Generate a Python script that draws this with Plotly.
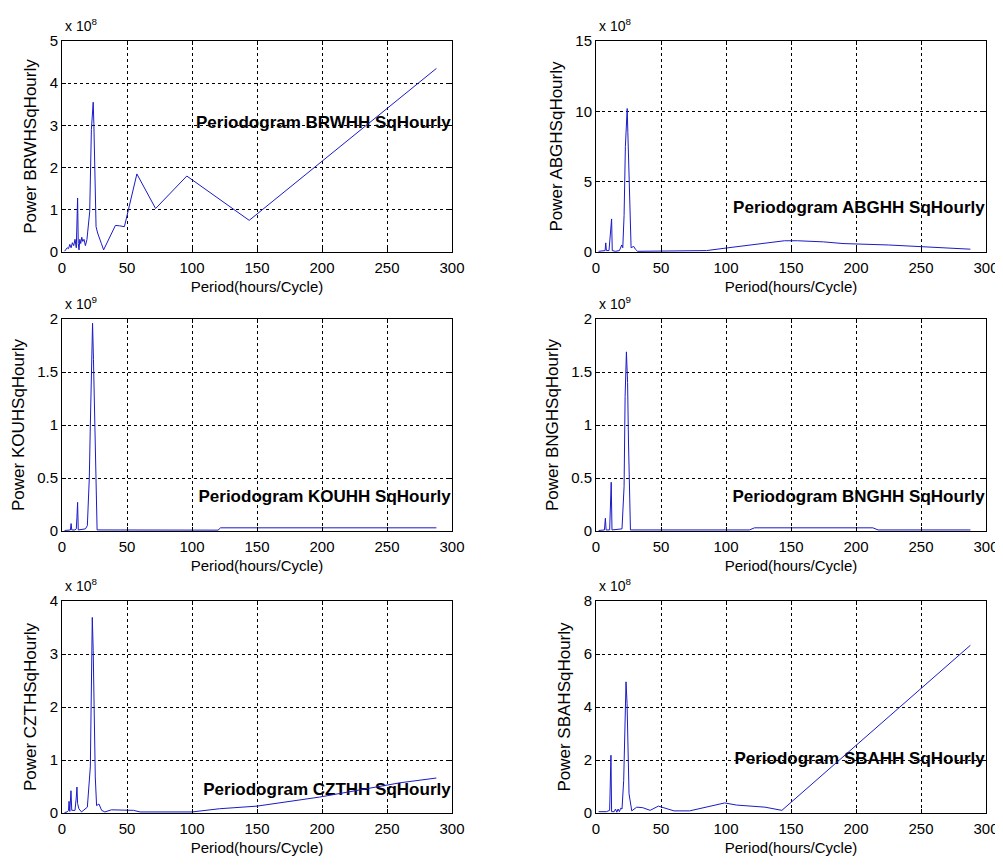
import plotly.graph_objects as go

# ---------------- data (period in hours/cycle, power in the axis multiplier units) ----------------
brwh_period = [2, 3, 4, 5, 6, 7, 8, 9, 10, 11, 11.5, 12, 12.5, 13.1, 13.7, 14.4, 15.2, 16, 16.9, 18,
               19.2, 20.6, 21.3, 22.6, 24, 24.5, 25.0, 26.2, 27.4, 28.8, 30.3, 32, 36, 41.1, 44.3, 48,
               57.6, 72, 96, 144, 288]
brwh_power = [0.02, 0.05, 0.1, 0.08, 0.18, 0.1, 0.22, 0.15, 0.3, 0.1, 0.65, 1.28, 0.2, 0.05, 0.3, 0.2,
              0.35, 0.25, 0.3, 0.15, 0.3, 0.85, 0.95, 2.9, 3.55, 3.05, 2.0, 0.6, 0.45, 0.35, 0.2, 0.05,
              0.3, 0.63, 0.62, 0.6, 1.85, 1.03, 1.8, 0.75, 4.35]          # x 10^8

abgh_period = [2, 5, 7, 7.5, 8, 10, 11, 12, 12.5, 15, 18, 19.8, 20.6, 21.6, 22.6, 24, 24.5, 25.5, 26.2,
               27, 29, 30.3, 32, 50, 85, 100, 125, 145, 155, 175, 190, 200, 225, 250, 270, 288]
abgh_power = [0.05, 0.05, 0.1, 0.65, 0.1, 0.1, 1.2, 2.35, 0.1, 0.05, 0.1, 0.5, 0.3, 2.6, 7.5, 10.2, 8.5,
              5.2, 1.8, 0.3, 0.4, 0.2, 0.05, 0.05, 0.1, 0.28, 0.55, 0.8, 0.8, 0.72, 0.6, 0.58, 0.5,
              0.38, 0.28, 0.2]                                             # x 10^8

kouh_period = [2, 5, 6.5, 7, 7.5, 10, 11, 11.5, 12, 12.5, 18, 19.5, 21, 21.8, 22.4, 23.5, 24.2, 25.3,
               26.2, 27, 120, 122, 288]
kouh_power = [0.005, 0.01, 0.01, 0.07, 0.01, 0.01, 0.02, 0.13, 0.27, 0.01, 0.02, 0.05, 0.5, 1.0, 1.47,
              1.96, 1.62, 0.97, 0.32, 0.01, 0.008, 0.03, 0.03]             # x 10^9

bngh_period = [2, 6.5, 7.2, 7.8, 10.5, 11, 11.7, 12.3, 20, 21.6, 22.4, 23.4, 24.3, 25, 25.8, 26.5,
               118, 122, 213, 217, 288]
bngh_power = [0.005, 0.01, 0.12, 0.01, 0.01, 0.23, 0.46, 0.01, 0.02, 0.42, 1.27, 1.69, 1.40, 0.83,
              0.27, 0.01, 0.01, 0.03, 0.03, 0.01, 0.01]                    # x 10^9

czth_period = [2, 4, 5, 5.4, 6, 6.9, 7.5, 10, 11, 11.5, 12, 13, 15, 19.5, 21.8, 22.5, 23.3, 24, 24.6,
               25.6, 26.6, 28.4, 30.5, 33, 38, 55, 60, 100, 121, 150, 198, 229, 260, 288]
czth_power = [0.01, 0.02, 0.05, 0.22, 0.03, 0.42, 0.05, 0.05, 0.3, 0.49, 0.18, 0.08, 0.02, 0.11, 0.87,
              2.82, 3.69, 3.07, 1.88, 0.68, 0.14, 0.17, 0.05, 0.02, 0.06, 0.05, 0.02, 0.02, 0.08,
              0.13, 0.3, 0.43, 0.57, 0.66]                                 # x 10^8

sbah_period = [2, 5, 8, 10.5, 10.9, 11.5, 12, 14, 15, 16, 17, 18, 19, 20, 21.3, 21.8, 23.1, 23.9, 24.6,
               25.4, 27.5, 31.3, 36, 41.6, 48, 52, 60, 72, 85, 99, 108, 130, 143, 288]
sbah_power = [0.05, 0.05, 0.05, 0.1, 1.1, 2.18, 0.05, 0.05, 0.15, 0.03, 0.15, 0.05, 0.18, 0.15, 1.23,
              2.75, 4.95, 4.13, 2.24, 0.73, 0.08, 0.22, 0.2, 0.1, 0.26, 0.2, 0.08, 0.08, 0.22, 0.38,
              0.3, 0.22, 0.1, 6.33]                                        # x 10^8

x_ticks = [0, 50, 100, 150, 200, 250, 300]
y_ticks_brwh = [0, 1, 2, 3, 4, 5]
y_ticks_abgh = [0, 5, 10, 15]
y_ticks_kouh = [0, 0.5, 1, 1.5, 2]
y_ticks_bngh = [0, 0.5, 1, 1.5, 2]
y_ticks_czth = [0, 1, 2, 3, 4]
y_ticks_sbah = [0, 2, 4, 6, 8]

panels = [
    dict(px=brwh_period, py=brwh_power, yt=y_ticks_brwh, ylab="Power BRWHSqHourly",
         title="Periodogram BRWHH SqHourly", ty=3.03, exp="8"),
    dict(px=abgh_period, py=abgh_power, yt=y_ticks_abgh, ylab="Power ABGHSqHourly",
         title="Periodogram ABGHH SqHourly", ty=3.06, exp="8"),
    dict(px=kouh_period, py=kouh_power, yt=y_ticks_kouh, ylab="Power KOUHSqHourly",
         title="Periodogram KOUHH SqHourly", ty=0.31, exp="9"),
    dict(px=bngh_period, py=bngh_power, yt=y_ticks_bngh, ylab="Power BNGHSqHourly",
         title="Periodogram BNGHH SqHourly", ty=0.31, exp="9"),
    dict(px=czth_period, py=czth_power, yt=y_ticks_czth, ylab="Power CZTHSqHourly",
         title="Periodogram CZTHH SqHourly", ty=0.42, exp="8"),
    dict(px=sbah_period, py=sbah_power, yt=y_ticks_sbah, ylab="Power SBAHSqHourly",
         title="Periodogram SBAHH SqHourly", ty=2.0, exp="8"),
]

# The page body has an 8px margin, so the figure is drawn 8px in from the window corner.
OFF = 8
W, H = 1003 - OFF, 868 - OFF
col_px = [(62, 452), (596, 986)]
row_px = [(41, 252), (319, 531), (601, 813)]
col_dom = [[(a - OFF) / W, (b - OFF) / W] for a, b in col_px]
row_dom = [[1 - (b - OFF) / H, 1 - (t - OFF) / H] for t, b in row_px]

FONT = "Liberation Sans, Arial, sans-serif"
LINE = "#1a1ac8"

fig = go.Figure()
layout = dict(
    template="none",
    width=W, height=H, paper_bgcolor="white", plot_bgcolor="white",
    margin=dict(l=0, r=0, t=0, b=0, pad=0), showlegend=False, annotations=[],
    font=dict(family=FONT, color="black"),
)

for i, p in enumerate(panels):
    n = i + 1
    r, c = divmod(i, 2)
    xa = "x" if n == 1 else f"x{n}"
    ya = "y" if n == 1 else f"y{n}"
    # in-plot caption drawn first, so the data line passes over it as in the original
    fig.add_trace(go.Scatter(x=[299], y=[p["ty"]], mode="text", xaxis=xa, yaxis=ya,
                             text=[f"<b>{p['title']}</b>"], textposition="middle left",
                             textfont=dict(family=FONT, size=17, color="black"),
                             hoverinfo="skip"))
    fig.add_trace(go.Scatter(x=p["px"], y=p["py"], mode="lines", xaxis=xa, yaxis=ya,
                             line=dict(color=LINE, width=1), hoverinfo="x+y"))
    axis_common = dict(
        automargin=False,
        showline=True, linecolor="black", linewidth=1, mirror="ticks",
        ticks="inside", ticklen=4, tickcolor="black", tickwidth=1,
        showgrid=True, gridcolor="black", gridwidth=1, griddash="3px,3px",
        zeroline=False, tickfont=dict(family=FONT, size=15, color="black"),
    )
    layout["xaxis" if n == 1 else f"xaxis{n}"] = dict(
        axis_common, domain=col_dom[c], anchor=ya, range=[0, 300], tickvals=x_ticks,
        ticklabelstandoff=2,
        title=dict(text="Period(hours/Cycle)", font=dict(family=FONT, size=15, color="black"),
                   standoff=6),
    )
    layout["yaxis" if n == 1 else f"yaxis{n}"] = dict(
        axis_common, domain=row_dom[r], anchor=xa, range=[p["yt"][0], p["yt"][-1]],
        tickvals=p["yt"],
        title=dict(text=p["ylab"], font=dict(family=FONT, size=17, color="black"), standoff=8),
    )
    layout["annotations"].append(dict(
        x=col_dom[c][0] + 1 / W, y=row_dom[r][1] + 16 / H, xref="paper", yref="paper",
        xanchor="left", yanchor="middle", text=f"x 10<sup>{p['exp']}</sup>", showarrow=False,
        font=dict(family=FONT, size=14, color="black"),
    ))

fig.update_layout(**layout)
fig.write_html("out.html")
